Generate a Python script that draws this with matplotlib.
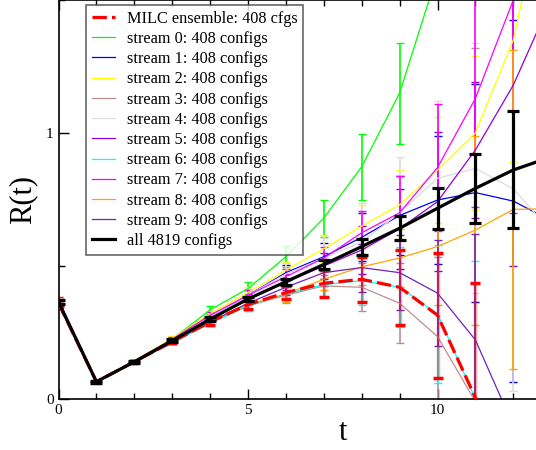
import matplotlib
matplotlib.use("Agg")
import matplotlib.pyplot as plt
import numpy as np
from matplotlib.ticker import MultipleLocator

plt.rcParams['font.family'] = ['Liberation Serif', 'DejaVu Serif']

t = np.arange(14)

# MILC ensemble
milc = [0.36, 0.065, 0.14, 0.215, 0.29, 0.355, 0.40, 0.435, 0.45, 0.42, 0.315, 0.005, -0.5, -1.0]
milc_err = [0.012, 0.003, 0.004, 0.006, 0.01, 0.015, 0.025, 0.05, 0.085, 0.14, 0.235, 0.43, 0.4, 0.6]

# the ten streams
stream_vals = [
    [0.37, 0.066, 0.142, 0.225, 0.335, 0.415, 0.535, 0.68, 0.873, 1.15, 1.6, 2.0, 2.6, 3.2],
    [0.365, 0.066, 0.141, 0.222, 0.31, 0.39, 0.475, 0.535, 0.608, 0.69, 0.748, 0.776, 0.744, 0.67],
    [0.37, 0.066, 0.143, 0.228, 0.32, 0.40, 0.485, 0.565, 0.65, 0.73, 0.86, 1.0, 1.35, 2.0],
    [0.355, 0.064, 0.138, 0.212, 0.285, 0.35, 0.39, 0.425, 0.42, 0.36, 0.235, -0.01, -0.4, -0.9],
    [0.365, 0.066, 0.141, 0.222, 0.31, 0.39, 0.47, 0.53, 0.59, 0.70, 0.83, 0.867, 0.79, 0.63],
    [0.36, 0.065, 0.14, 0.218, 0.30, 0.375, 0.44, 0.50, 0.56, 0.64, 0.742, 0.936, 1.18, 1.5],
    [0.355, 0.063, 0.138, 0.212, 0.285, 0.35, 0.395, 0.43, 0.445, 0.42, 0.32, 0.0, -0.5, -1.0],
    [0.37, 0.066, 0.142, 0.225, 0.315, 0.39, 0.46, 0.53, 0.625, 0.70, 0.87, 1.13, 1.5, 2.1],
    [0.36, 0.065, 0.14, 0.215, 0.29, 0.355, 0.395, 0.45, 0.497, 0.53, 0.573, 0.635, 0.713, 0.715],
    [0.355, 0.065, 0.139, 0.215, 0.29, 0.36, 0.42, 0.475, 0.494, 0.475, 0.398, 0.222, -0.1, -0.5],
]
stream_errs = [
    [0.012, 0.003, 0.005, 0.008, 0.015, 0.025, 0.04, 0.07, 0.124, 0.19, 0.09, 0.4, 0.8, 1.2],
    [0.012, 0.003, 0.005, 0.007, 0.012, 0.02, 0.03, 0.05, 0.09, 0.15, 0.24, 0.41, 0.68, 1.0],
    [0.012, 0.003, 0.005, 0.007, 0.012, 0.02, 0.03, 0.05, 0.08, 0.13, 0.2, 0.29, 0.46, 0.8],
    [0.012, 0.003, 0.005, 0.007, 0.012, 0.02, 0.03, 0.04, 0.09, 0.15, 0.3, 1.33, 0.2, 0.4],
    [0.012, 0.003, 0.005, 0.007, 0.012, 0.02, 0.04, 0.075, 0.147, 0.21, 0.29, 0.47, 0.76, 1.0],
    [0.012, 0.003, 0.005, 0.007, 0.012, 0.02, 0.03, 0.05, 0.09, 0.15, 0.26, 0.256, 0.68, 1.0],
    [0.012, 0.003, 0.005, 0.007, 0.012, 0.02, 0.03, 0.05, 0.09, 0.15, 0.26, 0.52, 0.3, 0.5],
    [0.012, 0.003, 0.005, 0.007, 0.012, 0.02, 0.03, 0.04, 0.08, 0.14, 0.24, 0.41, 0.8, 1.2],
    [0.012, 0.003, 0.005, 0.007, 0.012, 0.02, 0.03, 0.04, 0.07, 0.11, 0.22, 0.355, 0.6, 0.9],
    [0.012, 0.003, 0.005, 0.007, 0.012, 0.02, 0.03, 0.05, 0.09, 0.14, 0.2, 0.4, 0.08, 0.3],
]
stream_colors = ['#00ff00', '#0000ff', '#ffff00', '#bc8f8f', '#dcdcdc',
                 '#9400d3', '#00ffff', '#ff00ff', '#ffa500', '#7221bc']
stream_labels = [f"stream {i}: 408 configs" for i in range(10)]

# all configs combined
all_vals = [0.365, 0.065, 0.14, 0.219, 0.30, 0.376, 0.441, 0.506, 0.573, 0.642, 0.717, 0.792, 0.861, 0.91]
all_err = [0.008, 0.003, 0.004, 0.005, 0.007, 0.009, 0.012, 0.018, 0.03, 0.046, 0.078, 0.13, 0.22, 0.35]

fig = plt.figure(figsize=(5.36, 4.5), dpi=100)
ax = fig.add_axes([58.5 / 536, 51 / 450, 13 * 37.9 / 536, 399 / 450])

h_milc = ax.errorbar(t, milc, yerr=milc_err, color='red', lw=2.3,
                     ls=(0, (4.5, 1.6)), elinewidth=2.5, capsize=3.5,
                     capthick=2.5, zorder=3, label="MILC ensemble: 408 cfgs")
for bar in h_milc[2]:
    bar.set_alpha(0.35)

handles = [h_milc]
for vals, errs, col, lab in zip(stream_vals, stream_errs, stream_colors, stream_labels):
    h = ax.errorbar(t, vals, yerr=errs, color=col, lw=0.9, elinewidth=1.2,
                    capsize=3, capthick=1.0, zorder=2, label=lab)
    handles.append(h)

h_all = ax.errorbar(t, all_vals, yerr=all_err, color='black', lw=2.3,
                    elinewidth=2.3, capsize=4, capthick=2.3, zorder=4,
                    label="all 4819 configs")
handles.append(h_all)

ax.set_xlim(0, 13)
ax.set_ylim(0, 1.5)
ax.xaxis.set_major_locator(MultipleLocator(5))
ax.xaxis.set_minor_locator(MultipleLocator(1))
ax.yaxis.set_major_locator(MultipleLocator(1))
ax.yaxis.set_minor_locator(MultipleLocator(0.5))
ax.tick_params(which='both', direction='in', top=True, right=True,
               labelsize=11, width=1)
ax.tick_params(which='major', length=7)
ax.tick_params(which='minor', length=4.5)
for sp in ax.spines.values():
    sp.set_linewidth(1.2)

fig.text(23 / 536, 1 - 199 / 450, "R(t)", rotation=90, ha='center',
         va='center', fontsize=22)
fig.text(343 / 536, 1 - 433 / 450, "t", ha='center', va='center', fontsize=22)

leg_handles = [h[0] for h in handles]
leg = fig.legend(leg_handles, [h.get_label() for h in handles],
                 loc='upper left', bbox_to_anchor=(86 / 536, 1 - 5 / 450),
                 fontsize=11.7, frameon=True, fancybox=False,
                 handlelength=1.45, handletextpad=0.7, labelspacing=0.26,
                 borderpad=0.35, borderaxespad=0)
leg.get_frame().set_edgecolor('0.25')
leg.get_frame().set_linewidth(1.2)

fig.savefig("out.png", dpi=100)
